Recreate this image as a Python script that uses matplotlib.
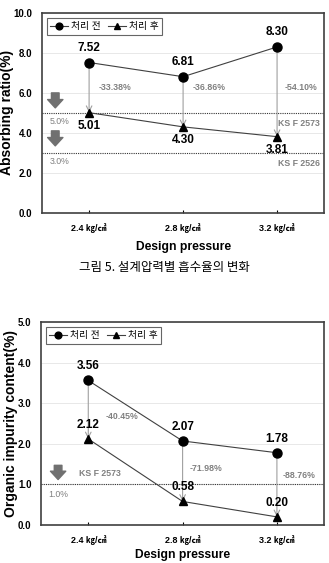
import numpy as np
import matplotlib.pyplot as plt

plt.rcParams['font.family'] = ['Liberation Sans', 'Noto Sans CJK KR', 'DejaVu Sans']

# data
pressures = ['2.4 ㎏/㎠', '2.8 ㎏/㎠', '3.2 ㎏/㎠']
absorb_before = [7.52, 6.81, 8.30]
absorb_after = [5.01, 4.30, 3.81]
absorb_change = ['-33.38%', '-36.86%', '-54.10%']
organic_before = [3.56, 2.07, 1.78]
organic_after = [2.12, 0.58, 0.20]
organic_change = ['-40.45%', '-71.98%', '-88.76%']

GRAY = '#808080'
x = np.arange(len(pressures))

fig = plt.figure(figsize=(3.29, 5.63), dpi=100)
ax1 = fig.add_axes([0.128, 0.622, 0.857, 0.355])
ax2 = fig.add_axes([0.125, 0.0675, 0.860, 0.3605])


def draw(ax, before, after, change, ymax, ylabel, pct_y, pct_dx, xlabelpad):
    ax.plot(x, before, '-', color='#404040', lw=0.8, marker='o', ms=6.5,
            mfc='black', mec='black', label='처리 전', zorder=3)
    ax.plot(x, after, '-', color='#404040', lw=0.8, marker='^', ms=6,
            mfc='black', mec='black', label='처리 후', zorder=3)
    for i in range(len(x)):
        ax.annotate('', xy=(x[i], after[i]), xytext=(x[i], before[i]),
                    arrowprops=dict(arrowstyle='->', color='#a0a0a0', lw=0.8,
                                    shrinkA=0, shrinkB=0), zorder=2)
        ax.text(x[i] + pct_dx[i], pct_y[i], change[i], color=GRAY, fontsize=6.3,
                fontweight='bold', ha='left', va='center')
    ax.set_xlim(-0.5, 2.5)
    ax.set_ylim(0, ymax)
    ax.set_xticks(x)
    ax.set_xticklabels(pressures, fontsize=6.5, fontweight='bold')
    ax.tick_params(axis='x', direction='in', length=2, pad=7.5)
    ax.tick_params(axis='y', length=0, labelsize=7, pad=7)
    for t in ax.get_yticklabels():
        t.set_fontweight('bold')
    ax.yaxis.set_major_formatter(plt.FormatStrFormatter('%.1f'))
    ax.grid(axis='y', color='#e4e4e4', lw=0.6)
    ax.set_axisbelow(True)
    for s in ax.spines.values():
        s.set_color('#404040')
        s.set_linewidth(1.2)
    ax.set_ylabel(ylabel, fontsize=10, fontweight='bold', labelpad=0)
    ax.set_xlabel('Design pressure', fontsize=8.7, fontweight='bold',
                  labelpad=xlabelpad)
    leg = ax.legend(loc='upper left', ncol=2, fontsize=7, frameon=True,
                    fancybox=False, edgecolor='#404040', handlelength=1.8,
                    handletextpad=0.3, columnspacing=0.8, borderpad=0.35,
                    markerscale=0.75, bbox_to_anchor=(0.0, 1.0))
    leg.get_frame().set_linewidth(0.8)


def down_arrow(ax, xa, y0, y1):
    ax.annotate('', xy=(xa, y1), xytext=(xa, y0),
                arrowprops=dict(arrowstyle='simple,head_width=1.1,head_length=0.6,tail_width=0.55',
                                color='#707070', shrinkA=0, shrinkB=0))


# top chart
draw(ax1, absorb_before, absorb_after, absorb_change, 10.0, 'Absorbing ratio(%)',
     [6.25, 6.25, 6.25], [0.1, 0.1, 0.08], 6)
ax1.set_yticks(np.arange(0, 10.1, 2.0))
for i in range(3):
    ax1.text(x[i], absorb_before[i] + 0.45, f'{absorb_before[i]:.2f}', ha='center',
             va='bottom', fontsize=8.5, fontweight='bold')
    ax1.text(x[i], absorb_after[i] - 0.35, f'{absorb_after[i]:.2f}', ha='center',
             va='top', fontsize=8.5, fontweight='bold')
for lvl, lab, ks in [(5.0, '5.0%', 'KS F 2573'), (3.0, '3.0%', 'KS F 2526')]:
    ax1.axhline(lvl, color='#333333', lw=0.8, ls=(0, (1, 1)), zorder=1)
    ax1.text(-0.42, lvl - 0.45, lab, color=GRAY, fontsize=6.3, va='center')
    ax1.text(2.46, lvl - 0.55, ks, color=GRAY, fontsize=6.3, fontweight='bold',
             va='center', ha='right')
down_arrow(ax1, -0.36, 6.0, 5.25)
down_arrow(ax1, -0.36, 4.1, 3.35)

# bottom chart
draw(ax2, organic_before, organic_after, organic_change, 5.0,
     'Organic impurity content(%)', [2.68, 1.40, 1.23], [0.18, 0.07, 0.06], 2.4)
ax2.set_yticks(np.arange(0, 5.1, 1.0))
for i in range(3):
    ax2.text(x[i], organic_before[i] + 0.2, f'{organic_before[i]:.2f}', ha='center',
             va='bottom', fontsize=8.5, fontweight='bold')
    ax2.text(x[i], organic_after[i] + 0.2, f'{organic_after[i]:.2f}', ha='center',
             va='bottom', fontsize=8.5, fontweight='bold')
ax2.axhline(1.0, color='#333333', lw=0.8, ls=(0, (1, 1)), zorder=1)
ax2.text(-0.42, 0.74, '1.0%', color=GRAY, fontsize=6.3, va='center')
ax2.text(-0.1, 1.26, 'KS F 2573', color=GRAY, fontsize=6.3, fontweight='bold',
         va='center')
down_arrow(ax2, -0.32, 1.47, 1.12)

fig.text(0.5, 1 - 268 / 563, '그림 5. 설계압력별 흡수율의 변화', ha='center',
         va='center', fontsize=9, family=['Noto Sans CJK KR', 'DejaVu Sans'])

fig.savefig('out.png', dpi=100)
